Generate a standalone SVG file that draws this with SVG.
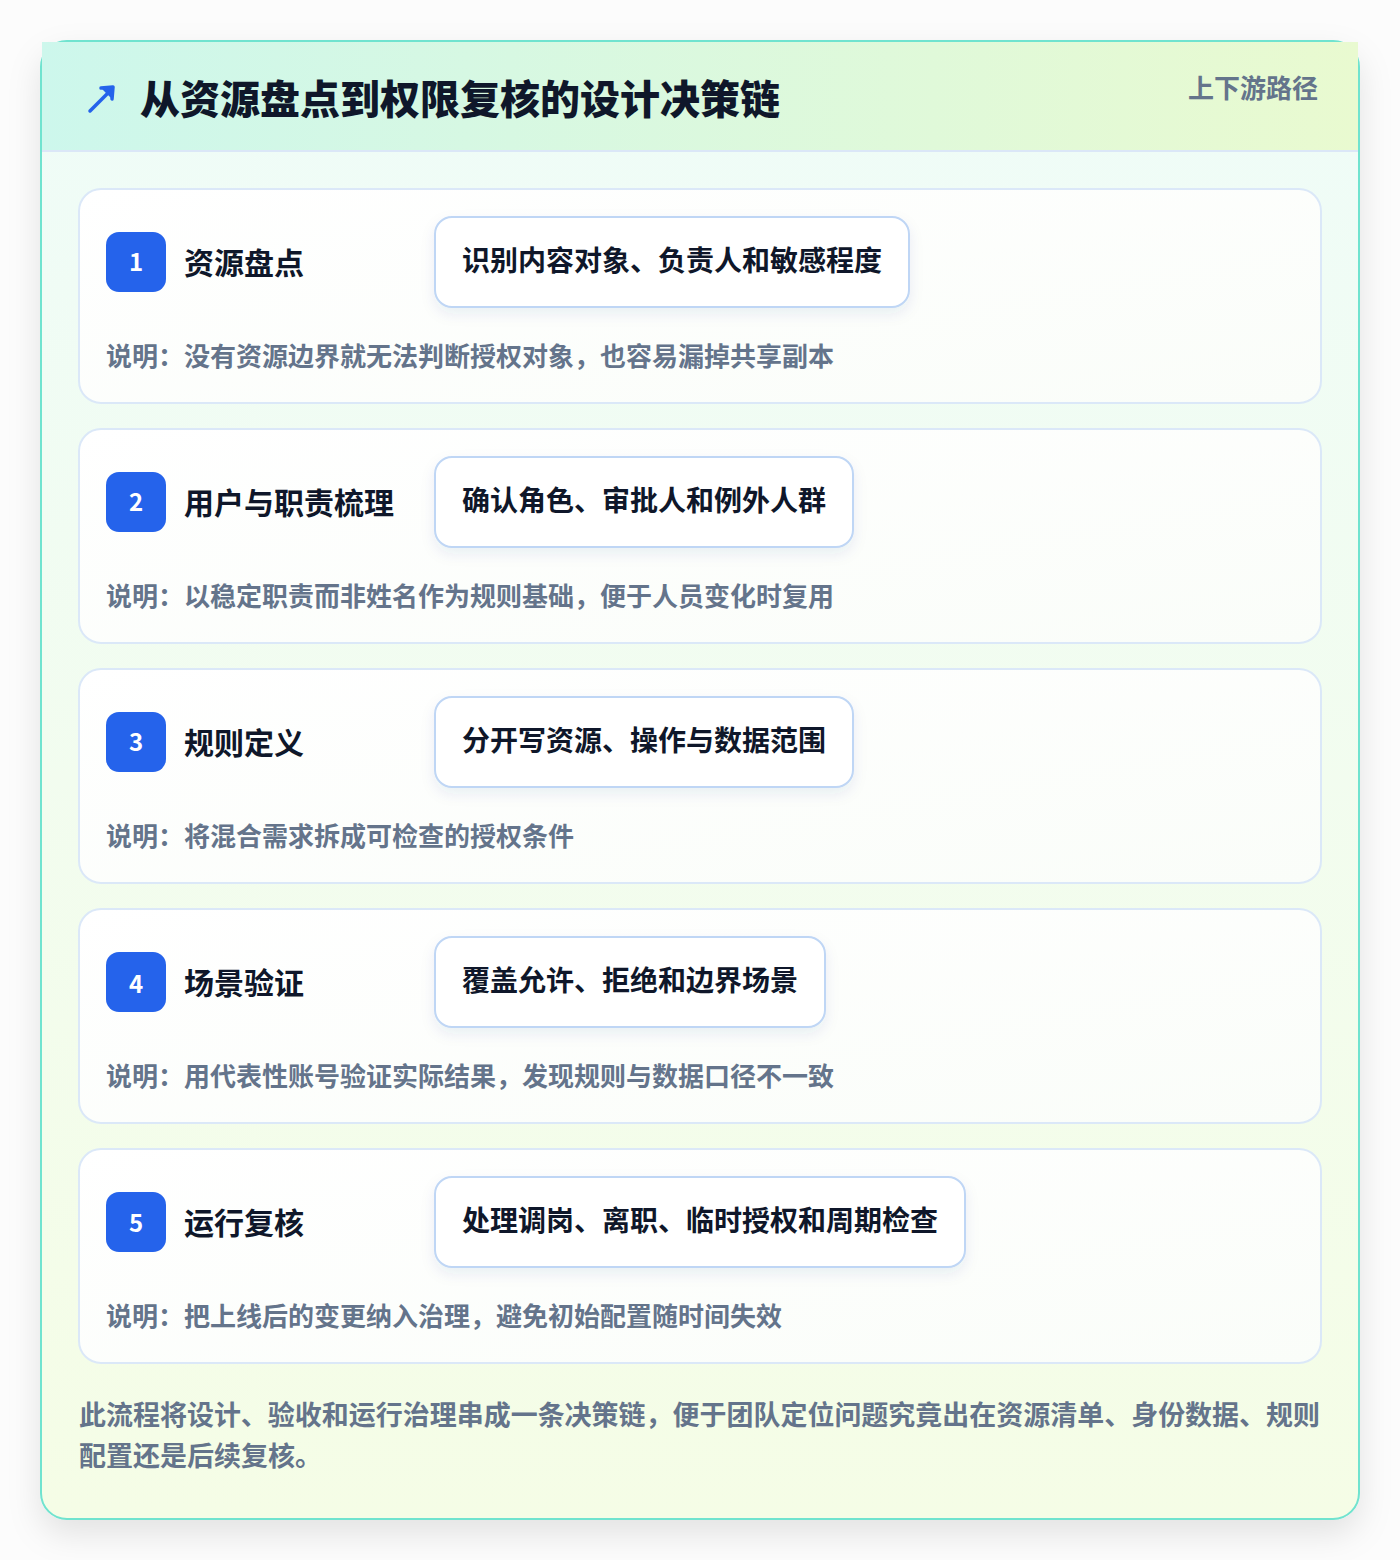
<svg xmlns="http://www.w3.org/2000/svg" width="1400" height="1560" viewBox="0 0 1400 1560">
<defs>
<linearGradient id="hdr" x1="0" y1="0" x2="1" y2="0">
<stop offset="0" stop-color="#cdf7ec"/>
<stop offset="1" stop-color="#e9fad0"/>
</linearGradient>
<linearGradient id="body" x1="0" y1="0" x2="0" y2="1">
<stop offset="0" stop-color="#effcf8"/>
<stop offset="1" stop-color="#f5fde6"/>
</linearGradient>
<linearGradient id="cardg" x1="0" y1="0" x2="1" y2="1">
<stop offset="0" stop-color="#ffffff"/>
<stop offset="1" stop-color="#fafdf9"/>
</linearGradient>
<filter id="outerShadow" x="-10%" y="-10%" width="120%" height="120%">
<feDropShadow dx="0" dy="14" stdDeviation="16" flood-color="#000000" flood-opacity="0.10"/>
</filter>
<filter id="pillShadow" x="-10%" y="-30%" width="120%" height="170%">
<feDropShadow dx="0" dy="6" stdDeviation="7" flood-color="#1e3a8a" flood-opacity="0.08"/>
</filter>
<style>
text{font-family:"Noto Sans CJK SC","Noto Sans",sans-serif;font-weight:700}
.title{font-size:40px;fill:#0f172a;font-weight:900}
.tag{font-size:26px;fill:#64748b}
.card{fill:url(#cardg);stroke:#dbe8f8;stroke-width:2}
.badge{fill:#2563eb}
.num{font-size:24px;fill:#ffffff;text-anchor:middle}
.stitle{font-size:30px;fill:#0f172a}
.pill{fill:#ffffff;stroke:#bfd6f5;stroke-width:2}
.ptext{font-size:28px;fill:#0f172a}
.desc{font-size:26px;fill:#64748b}
.foot{font-size:27px;fill:#64748b}
</style>
</defs>
<rect width="1400" height="1560" fill="#fcfcfc"/>
<g id="frame">
<rect x="41" y="41" width="1318" height="1478" rx="26" fill="url(#body)" stroke="#6fe3cf" stroke-width="2" filter="url(#outerShadow)"/>
<rect x="42" y="42" width="1316" height="109" fill="url(#hdr)"/>
<line x1="42" y1="151" x2="1358" y2="151" stroke="#dbe7f7" stroke-width="2"/>
</g>
<g id="header">
<g id="icon" stroke="#2563eb" stroke-width="3.5" stroke-linecap="round" fill="none">
<line x1="90" y1="111" x2="112" y2="89"/>
<polyline points="101,88 113,87 112,99" fill="#2563eb" stroke-linejoin="round"/>
</g>
<text class="title" x="140" y="114">从资源盘点到权限复核的设计决策链</text>
<text class="tag" x="1318" y="98" text-anchor="end">上下游路径</text>
</g>
<g id="step1">
<rect class="card" x="79" y="189" width="1242" height="214" rx="22"/>
<rect class="badge" x="106" y="232" width="60" height="60" rx="13"/>
<text class="num" x="136" y="271">1</text>
<text class="stitle" x="184" y="274">资源盘点</text>
<rect class="pill" x="435" y="217" width="474" height="90" rx="17" filter="url(#pillShadow)"/>
<text class="ptext" x="462" y="271">识别内容对象、负责人和敏感程度</text>
<text class="desc" x="106" y="366">说明：没有资源边界就无法判断授权对象，也容易漏掉共享副本</text>
</g>
<g id="step2">
<rect class="card" x="79" y="429" width="1242" height="214" rx="22"/>
<rect class="badge" x="106" y="472" width="60" height="60" rx="13"/>
<text class="num" x="136" y="511">2</text>
<text class="stitle" x="184" y="514">用户与职责梳理</text>
<rect class="pill" x="435" y="457" width="418" height="90" rx="17" filter="url(#pillShadow)"/>
<text class="ptext" x="462" y="511">确认角色、审批人和例外人群</text>
<text class="desc" x="106" y="606">说明：以稳定职责而非姓名作为规则基础，便于人员变化时复用</text>
</g>
<g id="step3">
<rect class="card" x="79" y="669" width="1242" height="214" rx="22"/>
<rect class="badge" x="106" y="712" width="60" height="60" rx="13"/>
<text class="num" x="136" y="751">3</text>
<text class="stitle" x="184" y="754">规则定义</text>
<rect class="pill" x="435" y="697" width="418" height="90" rx="17" filter="url(#pillShadow)"/>
<text class="ptext" x="462" y="751">分开写资源、操作与数据范围</text>
<text class="desc" x="106" y="846">说明：将混合需求拆成可检查的授权条件</text>
</g>
<g id="step4">
<rect class="card" x="79" y="909" width="1242" height="214" rx="22"/>
<rect class="badge" x="106" y="952" width="60" height="60" rx="13"/>
<text class="num" x="136" y="993">4</text>
<text class="stitle" x="184" y="994">场景验证</text>
<rect class="pill" x="435" y="937" width="390" height="90" rx="17" filter="url(#pillShadow)"/>
<text class="ptext" x="462" y="991">覆盖允许、拒绝和边界场景</text>
<text class="desc" x="106" y="1086">说明：用代表性账号验证实际结果，发现规则与数据口径不一致</text>
</g>
<g id="step5">
<rect class="card" x="79" y="1149" width="1242" height="214" rx="22"/>
<rect class="badge" x="106" y="1192" width="60" height="60" rx="13"/>
<text class="num" x="136" y="1232">5</text>
<text class="stitle" x="184" y="1234">运行复核</text>
<rect class="pill" x="435" y="1177" width="530" height="90" rx="17" filter="url(#pillShadow)"/>
<text class="ptext" x="462" y="1231">处理调岗、离职、临时授权和周期检查</text>
<text class="desc" x="106" y="1326">说明：把上线后的变更纳入治理，避免初始配置随时间失效</text>
</g>
<g id="footer">
<text class="foot" x="79" y="1425" textLength="1241" lengthAdjust="spacingAndGlyphs">此流程将设计、验收和运行治理串成一条决策链，便于团队定位问题究竟出在资源清单、身份数据、规则</text>
<text class="foot" x="79" y="1466">配置还是后续复核。</text>
</g>
</svg>
